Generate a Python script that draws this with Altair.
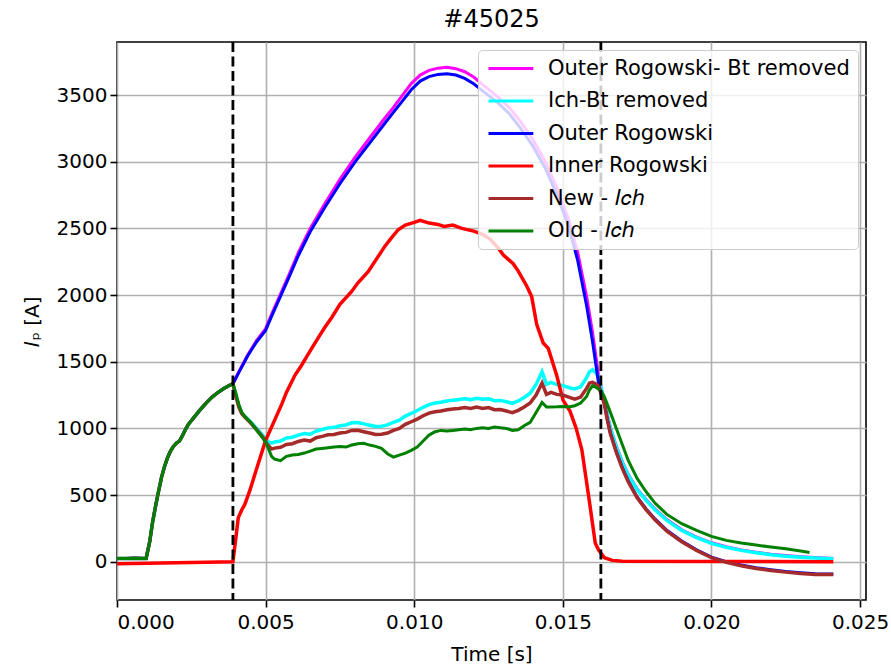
import altair as alt
import pandas as pd

# ---------------- data ----------------
SERIES = ["Outer Rogowski- Bt removed", "Ich-Bt removed", "Outer Rogowski",
          "Inner Rogowski", "New - 𝐼𝑐ℎ", "Old - 𝐼𝑐ℎ"]
COLORS = ["#ff00ff", "#00ffff", "#0000ff", "#ff0000", "#a52a2a", "#008000"]

# common start (all Rogowski / Ich signals overlap before 0.0039 s)
T_START = [0.0, 0.0003, 0.0006, 0.00098, 0.0011, 0.0012, 0.0013, 0.0014, 0.0015,
           0.0016, 0.0017, 0.0018, 0.0019, 0.0020, 0.0021, 0.0022, 0.0023, 0.0024,
           0.0026, 0.0028, 0.0030, 0.0032, 0.0034, 0.0036, 0.0038, 0.0039]
V_START = [25, 24, 26, 25, 150, 300, 420, 530, 635, 715, 780, 830, 865, 890, 905,
           945, 990, 1030, 1085, 1140, 1190, 1235, 1270, 1300, 1325, 1335]

# Outer Rogowski (blue) after 0.0039 s
T_BLUE = [0.0041, 0.0044, 0.0047, 0.0050, 0.0052, 0.0055, 0.0058, 0.0061, 0.0065,
          0.0070, 0.0075, 0.0080, 0.0085, 0.0090, 0.0093, 0.0096, 0.0099, 0.0102,
          0.0105, 0.0108, 0.0111, 0.0114, 0.0117, 0.0120, 0.0124, 0.0128, 0.0132,
          0.0136, 0.0140, 0.0144, 0.0148, 0.0152, 0.0155, 0.0158, 0.0160, 0.0162]
V_BLUE = [1420, 1545, 1650, 1735, 1840, 1990, 2140, 2295, 2475, 2660, 2835, 2995,
          3140, 3285, 3370, 3455, 3540, 3605, 3638, 3655, 3660, 3650, 3625, 3585,
          3515, 3445, 3360, 3245, 3115, 2955, 2755, 2510, 2260, 1920, 1650, 1340]
V_MAGENTA = [1425, 1552, 1660, 1748, 1855, 2008, 2160, 2318, 2500, 2688, 2868, 3030,
             3178, 3324, 3408, 3498, 3586, 3650, 3685, 3702, 3708, 3698, 3675, 3635,
             3562, 3488, 3405, 3295, 3165, 3005, 2805, 2565, 2320, 1990, 1720, 1400]

# New - Ich (brown), 0.0039 s .. 0.0162 s
T_MID = [0.0040, 0.0041, 0.0042, 0.0043, 0.0045, 0.0047, 0.0049, 0.0050, 0.0051,
         0.0052, 0.0053, 0.0055, 0.0057, 0.0059, 0.0061, 0.0063, 0.0065, 0.0067,
         0.0069, 0.0071, 0.0073, 0.0075, 0.0077, 0.0079, 0.0081, 0.0083, 0.0085,
         0.0087, 0.0089, 0.0091, 0.0093, 0.0095, 0.0097, 0.0099, 0.0101, 0.0103,
         0.0105, 0.0107, 0.0109, 0.0111, 0.0113, 0.0115, 0.0117, 0.0119, 0.0121,
         0.0123, 0.0125, 0.0127, 0.0129, 0.0131, 0.0133, 0.0135, 0.0137, 0.0139,
         0.0141, 0.0143, 0.01445, 0.0146, 0.0148, 0.0150, 0.0152, 0.0154, 0.0156,
         0.0158, 0.0159, 0.0160, 0.0161, 0.0162]
V_BROWN_MID = [1240, 1160, 1110, 1085, 1040, 990, 935, 900, 870, 845, 852, 858, 880,
               885, 902, 912, 905, 930, 940, 952, 955, 966, 970, 985, 986, 975, 965,
               955, 956, 965, 985, 1000, 1030, 1050, 1070, 1095, 1115, 1125, 1130,
               1140, 1146, 1150, 1156, 1150, 1160, 1150, 1156, 1140, 1141, 1130,
               1118, 1135, 1160, 1190, 1250, 1340, 1255, 1270, 1255, 1250, 1235,
               1220, 1235, 1300, 1340, 1345, 1335, 1320]
V_CYAN_MID = [1245, 1165, 1115, 1092, 1048, 1000, 950, 920, 900, 890, 898, 905, 928,
              934, 950, 962, 956, 980, 992, 1004, 1008, 1020, 1026, 1042, 1044, 1034,
              1024, 1014, 1016, 1026, 1046, 1062, 1092, 1112, 1134, 1158, 1178, 1190,
              1196, 1206, 1212, 1216, 1222, 1216, 1226, 1218, 1222, 1208, 1210, 1200,
              1188, 1206, 1232, 1264, 1330, 1425, 1330, 1345, 1328, 1322, 1306, 1296,
              1312, 1380, 1425, 1440, 1420, 1390]
V_GREEN_MID = [1265, 1180, 1120, 1090, 1045, 985, 930, 895, 845, 790, 770, 758, 790,
               800, 805, 815, 830, 845, 850, 855, 860, 865, 860, 875, 885, 888, 875,
               865, 850, 810, 785, 800, 815, 835, 860, 905, 950, 975, 985, 980, 985,
               990, 995, 990, 1000, 1005, 1000, 1010, 1005, 1000, 985, 990, 1020,
               1045, 1120, 1195, 1160, 1160, 1162, 1165, 1160, 1170, 1190, 1240,
               1290, 1320, 1310, 1295]

# decay after 0.0163 s
T_END = [0.0163, 0.0164, 0.0165, 0.0166, 0.0168, 0.0170, 0.0172, 0.0175, 0.0178,
         0.0181, 0.0185, 0.0190, 0.0195, 0.0200, 0.0205, 0.0210, 0.0215, 0.0220,
         0.0225, 0.0230, 0.0235, 0.0241]
V_BROWN_END = [1250, 1180, 1060, 960, 820, 700, 600, 480, 390, 315, 230, 150, 85, 30,
               -5, -30, -50, -65, -78, -88, -95, -96]
V_BLUE_END = [1255, 1185, 1066, 966, 826, 706, 606, 486, 396, 321, 236, 156, 90, 35,
              0, -25, -45, -60, -73, -83, -91, -92]
V_CYAN_END = [1290, 1210, 1090, 1000, 860, 745, 650, 540, 460, 390, 310, 235, 180,
              138, 108, 85, 68, 52, 42, 34, 28, 22]
V_MAGENTA_END = [1295, 1216, 1096, 1006, 866, 751, 656, 546, 466, 396, 316, 240, 185,
                 142, 112, 89, 72, 56, 46, 38, 31, 25]
T_GREEN_END = [0.0163, 0.0164, 0.0166, 0.0168, 0.0170, 0.0172, 0.0175, 0.0178, 0.0181,
               0.0185, 0.0190, 0.0195, 0.0200, 0.0205, 0.0210, 0.0215, 0.0220, 0.0225,
               0.0230, 0.0233]
V_GREEN_END = [1275, 1237, 1120, 1000, 880, 760, 625, 525, 440, 355, 285, 235, 190,
               160, 140, 125, 110, 97, 80, 70]

# Inner Rogowski (red)
T_RED = [0.0, 0.0010, 0.0020, 0.0030, 0.0039, 0.0040, 0.00408, 0.0042, 0.0043,
         0.00447, 0.0047, 0.0050, 0.0051, 0.0053, 0.00554, 0.0057, 0.00599, 0.0062,
         0.00655, 0.0068, 0.0070, 0.00722, 0.0075, 0.00789, 0.0081, 0.00845, 0.0087,
         0.00901, 0.0092, 0.00946, 0.0097, 0.0100, 0.0102, 0.0105, 0.0108, 0.0110,
         0.0113, 0.0116, 0.0120, 0.0123, 0.01255, 0.0128, 0.0130, 0.01333, 0.0135,
         0.01378, 0.01395, 0.01412, 0.01434, 0.01451, 0.01479, 0.01501, 0.01524,
         0.01545, 0.01564, 0.01587, 0.01609, 0.0162, 0.0164, 0.01666, 0.0170, 0.0241]
V_RED = [-15, -12, -8, -4, 0, 180, 330, 390, 430, 535, 700, 910, 960, 1060, 1180,
         1270, 1400, 1470, 1600, 1690, 1760, 1830, 1930, 2025, 2090, 2175, 2260, 2365,
         2420, 2490, 2525, 2545, 2560, 2540, 2530, 2515, 2525, 2500, 2480, 2455, 2420,
         2360, 2300, 2235, 2180, 2070, 1990, 1780, 1640, 1600, 1400, 1210, 1130, 1000,
         840, 490, 140, 90, 30, 10, 3, 0]

VLINES = [0.0039, 0.01628]


def frame(name, ts, vs):
    return pd.DataFrame({"t": ts, "v": vs, "series": name})


df = pd.concat([
    frame(SERIES[0], T_START + T_BLUE + T_END, V_START + V_MAGENTA + V_MAGENTA_END),
    frame(SERIES[1], T_START + T_MID + T_END, V_START + V_CYAN_MID + V_CYAN_END),
    frame(SERIES[2], T_START + T_BLUE + T_END, V_START + V_BLUE + V_BLUE_END),
    frame(SERIES[3], T_RED, V_RED),
    frame(SERIES[4], T_START + T_MID + T_END, V_START + V_BROWN_MID + V_BROWN_END),
    frame(SERIES[5], T_START + T_MID + T_GREEN_END, V_START + V_GREEN_MID + V_GREEN_END),
], ignore_index=True)
vdf = pd.DataFrame({"t": VLINES})

FONT = "DejaVu Sans"

x_enc = alt.X("t:Q", scale=alt.Scale(domain=[0, 0.0252], nice=False, zero=False),
              axis=alt.Axis(values=[0, 0.005, 0.01, 0.015, 0.02, 0.025], format=".3f",
                            title="Time [s]", titlePadding=12, labelPadding=5))
y_enc = alt.Y("v:Q", scale=alt.Scale(domain=[-287, 3898], nice=False, zero=False),
              axis=alt.Axis(values=[0, 500, 1000, 1500, 2000, 2500, 3000, 3500],
                            format="d", title="𝐼ₚ [A]", titlePadding=14, labelPadding=3))
color_enc = alt.Color(
    "series:N",
    scale=alt.Scale(domain=SERIES, range=COLORS),
    legend=alt.Legend(
        title=None, orient="none", legendX=361, legendY=8,
        symbolType="M-1,0H4.6", symbolSize=256, symbolStrokeWidth=3,
        labelFont=FONT, labelFontSize=21, labelColor="#000000", labelOffset=41,
        labelLimit=500, rowPadding=10.5, padding=8,
        fillColor="rgba(255,255,255,0.8)", strokeColor="#cccccc", cornerRadius=4,
    ),
)

widths = [3, 3.5, 3, 3.5, 3.5, 3]
layers = []
for name, w in zip(SERIES, widths):
    layers.append(
        alt.Chart(df).transform_filter(alt.datum.series == name)
        .mark_line(strokeWidth=w, interpolate="linear")
        .encode(x=x_enc, y=y_enc, color=color_enc, order="t:Q")
    )
rules = alt.Chart(vdf).mark_rule(color="black", strokeWidth=2.8, strokeDash=[10, 4.5]).encode(
    x=alt.X("t:Q")
)

chart = alt.layer(*layers, rules).properties(
    width=749, height=558,
    title=alt.TitleParams("#45025", font=FONT, fontSize=24, fontWeight="normal",
                          color="#000000", offset=9),
    autosize=alt.AutoSizeParams(type="none"),
    padding={"left": 117, "top": 42, "right": 25, "bottom": 70},
).configure_view(stroke="#000000", strokeWidth=1.6).configure_axis(
    grid=True, gridColor="#b0b0b0", gridWidth=1.6, domain=False,
    tickColor="#000000", tickWidth=1.6, tickSize=7,
    labelFont=FONT, labelFontSize=20, labelColor="#000000",
    titleFont=FONT, titleFontSize=20, titleFontWeight="normal", titleColor="#000000",
)

chart.save("out.html", embed_options={"renderer": "svg", "actions": False})
